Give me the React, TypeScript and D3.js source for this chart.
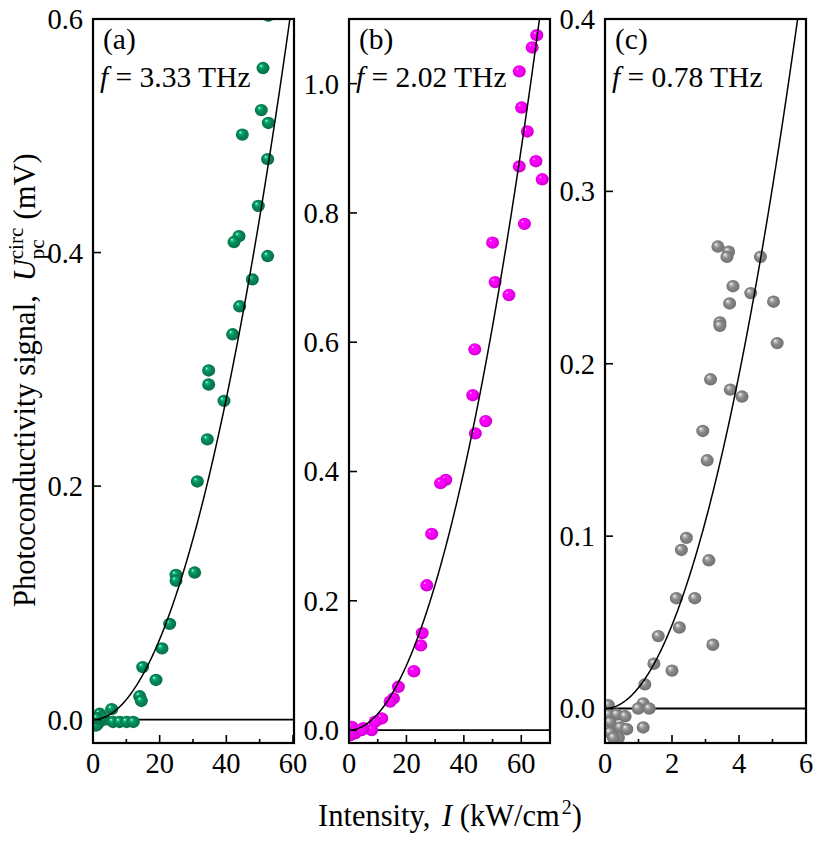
import React from "react";
import * as d3 from "d3";

// ---------- data ----------
const panelLabels = ["(a)", "(b)", "(c)"];
const freqLabels = ["3.33 THz", "2.02 THz", "0.78 THz"];

const aIntensity = [52.6, 51.0, 50.5, 52.6, 44.8, 52.4, 49.6, 43.8, 42.3, 52.4, 47.8, 44.0, 41.9, 34.7, 34.7, 39.3, 34.3, 31.3, 30.5, 24.9, 24.9, 23.0, 20.7, 14.9, 18.9, 14.0, 14.5, 5.6, 2.0, 1.5, 1.0, 3.5, 2.6, 6.0, 8.0, 10.1, 12.1, 1.2];
const aSignal = [0.603, 0.558, 0.522, 0.511, 0.501, 0.480, 0.440, 0.414, 0.409, 0.397, 0.377, 0.354, 0.330, 0.299, 0.287, 0.273, 0.240, 0.204, 0.126, 0.124, 0.119, 0.082, 0.061, 0.045, 0.034, 0.020, 0.016, 0.009, 0.005, -0.003, -0.005, 0.000, 0.002, -0.002, -0.002, -0.002, -0.002, 0.001];

const bIntensity = [65.4, 63.8, 59.3, 60.1, 62.1, 65.1, 59.3, 67.3, 61.1, 50.0, 50.9, 55.7, 43.8, 43.1, 47.6, 44.0, 33.7, 31.9, 28.8, 27.1, 25.5, 25.0, 22.6, 17.2, 15.5, 14.3, 11.4, 9.1, 7.9, 5.0, 2.1, 1.0, 0.3, 4.4];
const bSignal = [1.075, 1.056, 1.019, 0.963, 0.926, 0.880, 0.872, 0.852, 0.783, 0.754, 0.693, 0.673, 0.589, 0.518, 0.478, 0.459, 0.387, 0.382, 0.3035, 0.224, 0.150, 0.131, 0.091, 0.067, 0.049, 0.044, 0.018, 0.013, 0.0, 0.003, -0.005, 0.005, -0.008, 0.0];

const cIntensity = [3.37, 3.69, 3.64, 4.64, 3.82, 4.35, 3.72, 5.03, 3.43, 3.43, 5.14, 3.15, 3.74, 4.09, 2.92, 3.05, 2.43, 2.28, 3.10, 2.13, 2.68, 2.22, 1.59, 3.22, 1.46, 2.00, 1.19, 1.14, 0.99, 1.32, 1.14, 0.10, 0.10, 0.35, 0.60, 0.15, 0.45, 0.65, 0.15, 0.40, 0.25];
const cSignal = [0.268, 0.265, 0.262, 0.262, 0.245, 0.241, 0.235, 0.236, 0.224, 0.222, 0.212, 0.191, 0.185, 0.181, 0.161, 0.144, 0.099, 0.092, 0.086, 0.064, 0.064, 0.047, 0.042, 0.037, 0.026, 0.022, 0.014, 0.003, 0.000, 0.000, -0.011, 0.002, -0.0035, -0.0035, -0.0045, -0.008, -0.011, -0.012, -0.014, -0.017, -0.017];

// quadratic fit coefficients U = k * I^2
const fitCoef = [1.72e-4, 2.5e-4, 0.0121];

const xDomains = [[0, 60.3], [0, 70], [0, 6]];
const yDomains = [[-0.02, 0.6], [-0.02, 1.1], [-0.02, 0.4]];
const xMajorTicks = [[0, 20, 40, 60], [0, 20, 40, 60], [0, 2, 4, 6]];
const xMinorTicks = [[10, 30, 50], [10, 30, 50], [1, 3, 5]];
const yTicks = [[0, 0.2, 0.4, 0.6], [0, 0.2, 0.4, 0.6, 0.8, 1.0], [0, 0.1, 0.2, 0.3, 0.4]];
const colors = ["#088a5a", "#ff00ff", "#8a8a8a"];

const intensities = [aIntensity, bIntensity, cIntensity];
const signals = [aSignal, bSignal, cSignal];

// ---------- layout ----------
const W = 830;
const H = 844;
const panelLeft = [93, 349, 605];
const panelWidth = 201;
const top = 19;
const bottom = 743;
const FONT = "'Liberation Serif', 'Times New Roman', serif";
const FS = 28.5;
const FS_ANN = 29.5;
const FS_TITLE = 30.5;

function Panel({ i }: { i: number }) {
  const x0 = panelLeft[i];
  const x1 = x0 + panelWidth;
  const x = d3.scaleLinear().domain(xDomains[i]).range([x0, x1]);
  const y = d3.scaleLinear().domain(yDomains[i]).range([bottom, top]);
  const col = d3.color(colors[i])!;
  const gid = `sph${i}`;
  const cid = `clip${i}`;
  const xs = intensities[i];
  const ys = signals[i];
  const k = fitCoef[i];
  const xmax = xDomains[i][1];
  const curvePts: [number, number][] = d3.range(0, xmax * 1.001, xmax / 300).map((v) => [v, k * v * v]);
  const line = d3.line<[number, number]>().x((d) => x(d[0])).y((d) => y(d[1]));
  return (
    <g>
      <defs>
        <radialGradient id={gid} cx="0.5" cy="0.5" r="0.55" fx="0.33" fy="0.3">
          <stop offset="0" stopColor="#ffffff" />
          <stop offset="0.18" stopColor={col.brighter(0.9).formatHex()} />
          <stop offset="0.45" stopColor={col.formatHex()} />
          <stop offset="1" stopColor={col.darker(0.7).formatHex()} />
        </radialGradient>
        <clipPath id={cid}>
          <rect x={x0} y={top} width={panelWidth} height={bottom - top} />
        </clipPath>
      </defs>
      {/* zero line */}
      <line x1={x0} x2={x1} y1={y(0)} y2={y(0)} stroke="#000" strokeWidth={1.8} />
      {/* points */}
      <g clipPath={`url(#${cid})`}>
        {xs.map((v, j) => (
          <ellipse key={j} cx={x(v)} cy={y(ys[j])} rx={6.5} ry={6.2} fill={`url(#${gid})`} />
        ))}
        <path d={line(curvePts) || ""} fill="none" stroke="#000" strokeWidth={1.5} />
      </g>
      {/* frame */}
      <rect x={x0} y={top} width={panelWidth} height={bottom - top} fill="none" stroke="#000" strokeWidth={2.2} />
      {/* y ticks */}
      {yTicks[i].map((t) => (
        <g key={`y${t}`}>
          {y(t) > top + 1 && (
            <line x1={x0} x2={x0 + 8} y1={y(t)} y2={y(t)} stroke="#000" strokeWidth={1.6} />
          )}
          <text x={x0 - 10} y={y(t)} dy="0.35em" textAnchor="end" fontFamily={FONT} fontSize={FS}>
            {d3.format(".1f")(t)}
          </text>
        </g>
      ))}
      {/* x ticks */}
      {xMajorTicks[i].map((t) => (
        <g key={`x${t}`}>
          <line x1={x(t)} x2={x(t)} y1={bottom} y2={bottom - 8} stroke="#000" strokeWidth={1.6} />
          <text x={x(t)} y={773} textAnchor="middle" fontFamily={FONT} fontSize={FS}>
            {t}
          </text>
        </g>
      ))}
      {xMinorTicks[i].map((t) => (
        <line key={`m${t}`} x1={x(t)} x2={x(t)} y1={bottom} y2={bottom - 4} stroke="#000" strokeWidth={1.6} />
      ))}
      {/* annotations */}
      <text x={x0 + 10} y={49} fontFamily={FONT} fontSize={FS_ANN}>
        {panelLabels[i]}
      </text>
      <text x={x0 + 7} y={87} fontFamily={FONT} fontSize={FS_ANN}>
        <tspan fontStyle="italic">f</tspan>
        <tspan> = {freqLabels[i]}</tspan>
      </text>
    </g>
  );
}

export default function App() {
  return (
    <svg
      width={W}
      height={H}
      style={{ display: "block", background: "#fff", position: "absolute", left: 0, top: 0 }}
    >
      <rect x={0} y={0} width={W} height={H} fill="#fff" />
      {[0, 1, 2].map((i) => (
        <Panel key={i} i={i} />
      ))}
      {/* x axis title */}
      <text x={450} y={826} textAnchor="middle" fontFamily={FONT} fontSize={FS_TITLE}>
        <tspan>Intensity, </tspan>
        <tspan dx={4} fontStyle="italic">I</tspan>
        <tspan> (kW/cm</tspan>
        <tspan fontSize={20} dx={2} dy={-12}>2</tspan>
        <tspan dy={12}>)</tspan>
      </text>
      {/* y axis title */}
      <g transform="translate(35,607) rotate(-90)">
        <text x={0} y={0} fontFamily={FONT} fontSize={FS_TITLE}>
          <tspan>Photoconductivity signal,</tspan>
          <tspan dx={14} fontStyle="italic">U</tspan>
          <tspan fontSize={21} dy={-12}>circ</tspan>
          <tspan fontSize={21} dx={-31.5} dy={21}>pc</tspan>
          <tspan dx={20} dy={-9}>(mV)</tspan>
        </text>
      </g>
    </svg>
  );
}
